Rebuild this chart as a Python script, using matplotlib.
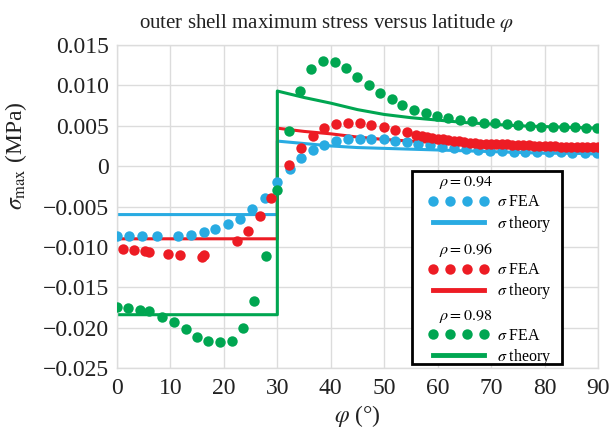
import matplotlib
matplotlib.use("Agg")
import matplotlib.pyplot as plt
from matplotlib.lines import Line2D
from matplotlib.legend import Legend
from matplotlib.patches import Rectangle

plt.rcParams["font.family"] = "serif"
plt.rcParams["font.serif"] = ["Liberation Serif", "DejaVu Serif"]
plt.rcParams["mathtext.fontset"] = "stix"

blue = "#29abe2"
red = "#ed1c24"
green = "#00a651"

# FEA results, rho = 0.94
phi_94 = [0, 2.3, 4.6, 7.4, 11.5, 13.8, 16.2, 18.4, 20.7, 23.0, 25.3, 27.6, 29.9,
          32.3, 34.4, 36.6, 38.8, 41.0, 43.2, 45.4, 47.6, 49.9, 52.1, 54.3, 56.4,
          58.6, 60.8, 63.0, 65.3, 67.6, 69.8, 72.0, 74.2, 76.4, 78.6, 80.8, 83.0,
          85.2, 87.5, 89.8]
fea_94 = [-0.0087, -0.0087, -0.0087, -0.0087, -0.0087, -0.0085, -0.0082, -0.0078,
          -0.0072, -0.0065, -0.0053, -0.0039, -0.0020, -0.0003, 0.0010, 0.0020,
          0.0026, 0.0031, 0.0034, 0.0034, 0.0034, 0.0033, 0.0031, 0.0030, 0.0028,
          0.0026, 0.0024, 0.0022, 0.0021, 0.0020, 0.0019, 0.0019, 0.0018, 0.0018,
          0.0017, 0.0017, 0.0017, 0.0016, 0.0016, 0.0016]

# FEA results, rho = 0.96
phi_96 = [1.1, 3.2, 5.2, 5.9, 9.6, 11.8, 15.9, 16.2, 22.4, 24.6, 26.8, 28.8,
          32.2, 34.4, 36.6, 38.8, 41.0, 43.2, 45.4, 47.6, 49.9, 52.1, 54.3,
          56, 57, 58, 59, 60, 61, 62, 63, 64, 65, 66, 67, 68, 69, 70, 71, 72, 73,
          74, 75, 76, 77, 78, 79, 80, 81, 82, 83, 84, 85, 86, 87, 88, 89, 90]
fea_96 = [-0.0103, -0.0104, -0.0105, -0.0106, -0.0109, -0.0110, -0.0112, -0.0110,
          -0.0093, -0.0080, -0.0062, -0.0039, 0.0001, 0.0023, 0.0037, 0.0047,
          0.0052, 0.0054, 0.0053, 0.0051, 0.0048, 0.0045, 0.0042,
          0.0038, 0.0037, 0.0036, 0.0035, 0.0034, 0.0033, 0.0032, 0.0031, 0.0031,
          0.0030, 0.0029, 0.0029, 0.0028, 0.0028, 0.0028, 0.0027, 0.0027, 0.0027,
          0.0026, 0.0026, 0.0026, 0.0026, 0.0025, 0.0025, 0.0025, 0.0025, 0.0025,
          0.0024, 0.0024, 0.0024, 0.0024, 0.0024, 0.0024, 0.0024, 0.0024]

# FEA results, rho = 0.98
phi_98 = [0, 2.1, 4.3, 6.0, 8.5, 10.7, 12.9, 15.0, 17.1, 19.3, 21.5, 23.5, 25.7,
          27.8, 30.0, 32.1, 34.3, 36.3, 38.5, 40.7, 42.9, 45.0, 47.2, 49.3, 51.4,
          53.4, 55.5, 57.8, 59.9, 62.0, 64.2, 66.4, 68.6, 70.8, 72.9, 75.1, 77.3,
          79.3, 81.5, 83.7, 85.7, 87.8, 89.9]
fea_98 = [-0.0175, -0.0176, -0.0178, -0.0180, -0.0187, -0.0193, -0.0202, -0.0211,
          -0.0217, -0.0218, -0.0216, -0.0201, -0.0167, -0.0111, -0.0029, 0.0043,
          0.0093, 0.0120, 0.0130, 0.0129, 0.0122, 0.0111, 0.0101, 0.0091, 0.0083,
          0.0076, 0.0070, 0.0066, 0.0062, 0.0060, 0.0057, 0.0056, 0.0054, 0.0053,
          0.0052, 0.0051, 0.0050, 0.0049, 0.0049, 0.0048, 0.0048, 0.0047, 0.0047]

# theory curves (step at phi = 30)
phi_theory = [0, 30, 30, 35, 40, 45, 50, 55, 60, 65, 70, 75, 80, 85, 90]
theory_94 = [-0.0060, -0.0060, 0.0031, 0.0028, 0.0025, 0.0023, 0.0022, 0.0021,
             0.0020, 0.0019, 0.0018, 0.0017, 0.0016, 0.0016, 0.0015]
theory_96 = [-0.0090, -0.0090, 0.0047, 0.0043, 0.0040, 0.0036, 0.0033, 0.0031,
             0.0029, 0.0028, 0.0027, 0.0026, 0.0025, 0.0024, 0.0024]
theory_98 = [-0.0184, -0.0184, 0.0093, 0.0085, 0.0078, 0.0070, 0.0064, 0.0060,
             0.0057, 0.0054, 0.0052, 0.0050, 0.0049, 0.0048, 0.0047]

yticks = [-0.025, -0.020, -0.015, -0.010, -0.005, 0, 0.005, 0.010, 0.015]
ytick_labels = ["\u22120.025", "\u22120.020", "\u22120.015", "\u22120.010", "\u22120.005",
                "0", "0.005", "0.010", "0.015"]
xticks = [0, 10, 20, 30, 40, 50, 60, 70, 80, 90]

fig = plt.figure(figsize=(6.11, 4.37), dpi=100)
ax = fig.add_axes([0.1915, 0.1579, 0.7872, 0.7391])

lw = 2.2
ms = 7.5
ax.plot(phi_theory, theory_94, color=blue, lw=lw, zorder=2)
ax.plot(phi_theory, theory_96, color=red, lw=lw, zorder=2)
ax.plot(phi_theory, theory_98, color=green, lw=lw, zorder=2)
ax.plot(phi_94, fea_94, "o", color=blue, ms=ms, mec="none", zorder=3)
ax.plot(phi_96, fea_96, "o", color=red, ms=ms, mec="none", zorder=3)
ax.plot(phi_98, fea_98, "o", color=green, ms=ms, mec="none", zorder=3)

ax.set_xlim(0, 90)
ax.set_ylim(-0.025, 0.015)
ax.set_xticks(xticks)
ax.set_yticks(yticks)
ax.set_yticklabels(ytick_labels)
ax.tick_params(length=0, labelsize=17, colors="#222222")
ax.tick_params(axis="y", pad=6)
ax.tick_params(axis="x", pad=7)
ax.grid(True, color="#dcdcdc", lw=1)
ax.set_axisbelow(True)
for s in ax.spines.values():
    s.set_color("#dcdcdc")
    s.set_linewidth(1)

ax.set_title(r"outer shell maximum stress versus latitude $\varphi$", fontsize=15,
             color="#222222", pad=12, x=0.4345)
ax.set_ylabel(r"$\sigma_{\rm max}$ (MPa)", fontsize=17, color="#222222")
ax.yaxis.set_label_coords(-0.183, 0.656)
ax.set_xlabel(r"$\varphi$ (°)", fontsize=17, color="#222222", labelpad=3)

# legend: three stacked groups inside one black frame
ax.add_patch(Rectangle((0.6127, 0.0124), 0.3131, 0.5975, transform=ax.transAxes,
                       fill=True, facecolor="white", edgecolor="black", lw=2, zorder=5))
groups = [(r"$\quad\rho = 0.94$", blue), (r"$\quad\rho = 0.96$", red), (r"$\quad\rho = 0.98$", green)]
for i, (title, c) in enumerate(groups):
    h = [Line2D([], [], ls="none", marker="o", color=c, ms=ms, mec="none"),
         Line2D([], [], color=c, lw=3.5)]
    leg = Legend(ax, h, [r"$\sigma$ FEA", r"$\sigma$ theory"], title=title,
                 loc="upper left", bbox_to_anchor=(0.6466, 0.600 - i * 0.2065),
                 frameon=False, borderpad=0, borderaxespad=0, numpoints=4,
                 handlelength=3.8, handletextpad=0.5, labelspacing=0.2,
                 fontsize=11.5, title_fontsize=11.5, alignment="left")
    leg.set_zorder(6)
    ax.add_artist(leg)

fig.savefig("out.png", dpi=100)
